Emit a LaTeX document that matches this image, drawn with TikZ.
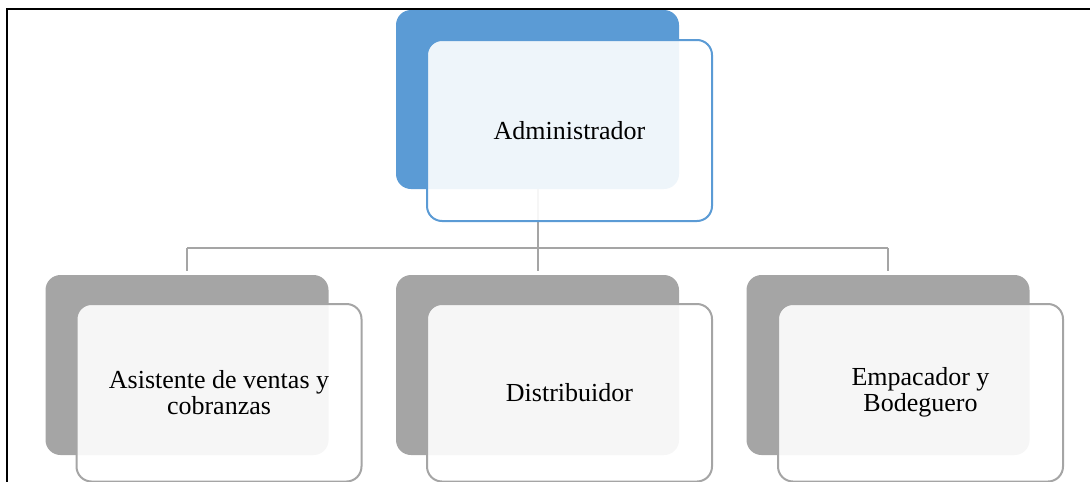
\documentclass[tikz,border=0pt]{standalone}
\usepackage{fontspec}
\setmainfont{Liberation Serif}
\definecolor{adminblue}{HTML}{5B9BD5}
\definecolor{staffgray}{HTML}{A5A5A5}
\begin{document}
\begin{tikzpicture}[x=1pt,y=-1pt,
  backbox/.style={rounded corners=15pt, inner sep=0pt,
    minimum width=283pt, minimum height=179pt},
  frontbox/.style={rounded corners=15pt, inner sep=0pt, line width=2pt,
    fill=white, fill opacity=0.9, text opacity=1, align=center,
    minimum width=285pt, minimum height=181pt,
    font=\fontsize{26}{26}\selectfont},
  conn/.style={draw=staffgray, line width=2pt},
  frame/.style={draw=black, line width=2pt}]
\useasboundingbox (0,0) rectangle (1090,482);

% page frame (top and left rule)
\coordinate (fl) at (7,482);
\coordinate (fc) at (7,9);
\coordinate (fr) at (1090,9);
\draw[frame] (fl) -- (fc) -- (fr);

% back panels
\node[backbox, fill=adminblue] (admback) at (537.5,99.5) {};
\node[backbox, fill=staffgray, minimum height=180pt] (c1back) at (187,365) {};
\node[backbox, fill=staffgray, minimum height=180pt] (c2back) at (537.5,365) {};
\node[backbox, fill=staffgray, minimum height=180pt] (c3back) at (888,365) {};

% tree connectors
\coordinate (bar) at (537.5,248);
\draw[conn] (admback.south) -- (admback.south |- bar);
\draw[conn] (c1back.north |- bar) -- (c3back.north |- bar);
\draw[conn, shorten >=3.5pt] (c1back.north |- bar) -- (c1back.north);
\draw[conn, shorten >=3.5pt] (c2back.north |- bar) -- (c2back.north);
\draw[conn, shorten >=3.5pt] (c3back.north |- bar) -- (c3back.north);

% front panels with labels
\node[frontbox, draw=adminblue] (adm) at (569.5,130.5) {Administrador};
\node[frontbox, draw=staffgray, minimum height=177.5pt] (c1) at (219,392.75)
  {Asistente de ventas y\\cobranzas};
\node[frontbox, draw=staffgray, minimum height=177.5pt] (c2) at (569.5,392.75)
  {Distribuidor};
\node[frontbox, draw=staffgray, minimum height=177.5pt] (c3) at (920.5,392.75)
  {Empacador y\\Bodeguero};
\end{tikzpicture}
\end{document}
